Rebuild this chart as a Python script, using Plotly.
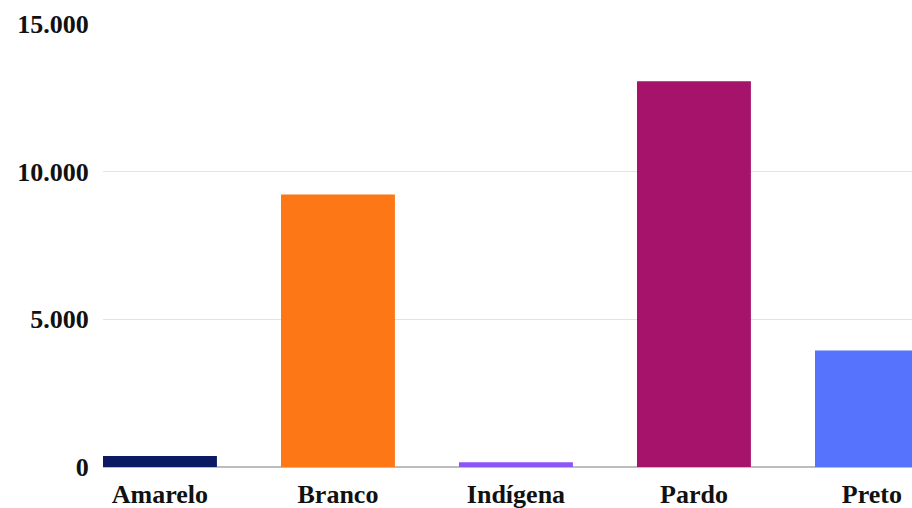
import plotly.graph_objects as go

categories = ["Amarelo", "Branco", "Indígena", "Pardo", "Preto"]
values = [370, 9230, 165, 13065, 3945]
colors = ["#0b1a63", "#fd7716", "#8c55f8", "#a5136a", "#5673fd"]
tick_vals = [0, 5000, 10000, 15000]
tick_text = ["0", "5.000", "10.000", "15.000"]

FONT = "Liberation Serif"

fig = go.Figure(go.Bar(
    x=categories, y=values, marker=dict(color=colors, line=dict(width=0)),
    width=0.64,
))

fig.update_layout(
    width=912, height=508,
    margin=dict(l=103, r=0, t=24, b=41),
    paper_bgcolor="white", plot_bgcolor="white",
    showlegend=False,
    font=dict(family=FONT, size=26, color="#111111"),
    xaxis=dict(
        range=[-0.32, 4.225],
        showgrid=False, zeroline=False,
        showline=False, automargin=False,
        tickfont=dict(family=FONT, size=26, color="#111111", weight="bold"),
        ticks="outside", ticklen=4, tickcolor="rgba(0,0,0,0)",
    ),
    yaxis=dict(
        range=[0, 15000],
        tickvals=tick_vals, ticktext=tick_text,
        showgrid=True, gridcolor="#e3e3e3", gridwidth=1,
        zeroline=True, zerolinecolor="#bdbdbd", zerolinewidth=1.5,
        showline=False, automargin=False,
        tickfont=dict(family=FONT, size=26, color="#111111", weight="bold"),
        ticks="outside", ticklen=8, tickcolor="rgba(0,0,0,0)",
    ),
)

fig.write_html(
    "out.html",
    config={"displayModeBar": False},
    post_script="document.body.style.margin='0';document.body.style.overflow='hidden';",
)
